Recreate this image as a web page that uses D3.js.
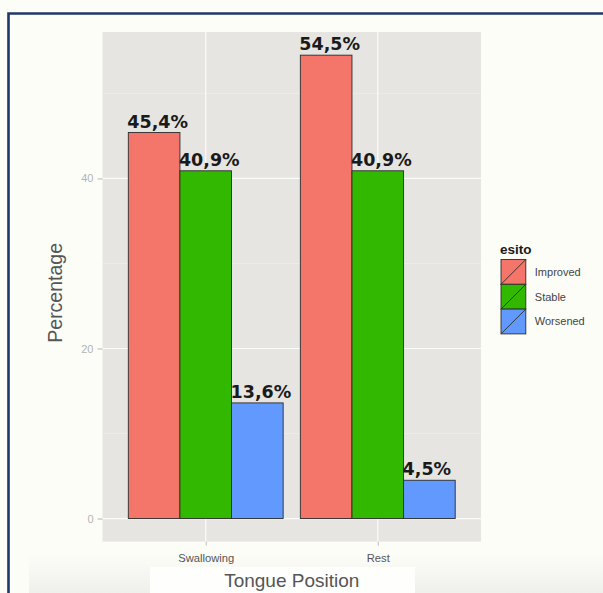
<!DOCTYPE html>
<html>
<head>
<meta charset="utf-8">
<script src="https://cdn.jsdelivr.net/npm/d3@7/dist/d3.min.js"></script>
<style>
  html, body { margin: 0; padding: 0; background: #fdfdf8; }
  svg { display: block; }
</style>
</head>
<body>
<svg id="chart" width="603" height="593"></svg>
<script>
// Tongue position outcome percentages by group
const positions = ["Swallowing", "Rest"];
const outcomes = ["Improved", "Stable", "Worsened"];
const improved = [45.4, 54.5];
const stable = [40.9, 40.9];
const worsened = [13.6, 4.5];
const yTicks = [0, 20, 40];
const yMinor = [10, 30, 50];
const colors = ["#f4766a", "#33b800", "#6199ff"];

const seriesValues = [improved, stable, worsened];
const rows = [];
positions.forEach((p, i) => {
  outcomes.forEach((o, j) => rows.push({ position: p, outcome: o, value: seriesValues[j][i] }));
});

const svg = d3.select("#chart");
const W = 603, H = 593;

// page background and frame
svg.append("rect").attr("width", W).attr("height", H).attr("fill", "#fdfdf8");
const defs = svg.append("defs");
const grad = defs.append("linearGradient").attr("id", "foot").attr("x1", 0).attr("y1", 0).attr("x2", 0).attr("y2", 1);
grad.append("stop").attr("offset", "0%").attr("stop-color", "#fdfdf8");
grad.append("stop").attr("offset", "100%").attr("stop-color", "#efefec");
svg.append("rect").attr("x", 29).attr("y", 553).attr("width", W - 29).attr("height", H - 553).attr("fill", "url(#foot)");
svg.append("rect").attr("x", 150).attr("y", 567).attr("width", 265).attr("height", H - 567).attr("fill", "#fefefd");

svg.append("path")
  .attr("d", `M8.5,${H} V13.5 H${W}`)
  .attr("fill", "none").attr("stroke", "#1f3869").attr("stroke-width", 2.6);

// panel geometry
const panel = { left: 102.5, right: 481, top: 32, bottom: 541.7 };
const maxVal = d3.max(rows, d => d.value);
const pad = maxVal * 0.05;

const y = d3.scaleLinear().domain([-pad, maxVal + pad]).range([panel.bottom, panel.top]);
const x = d3.scalePoint().domain(positions).range([panel.left, panel.right]).padding(0.6);
const groupW = x.step() * 0.9;
const xi = d3.scaleBand().domain(outcomes).range([-groupW / 2, groupW / 2]).paddingInner(0).paddingOuter(0);

svg.append("rect")
  .attr("x", panel.left).attr("y", panel.top)
  .attr("width", panel.right - panel.left).attr("height", panel.bottom - panel.top)
  .attr("fill", "#e7e5e2");

const g = svg.append("g");
// minor grid
g.selectAll("line.minor").data(yMinor).join("line")
  .attr("x1", panel.left).attr("x2", panel.right)
  .attr("y1", d => y(d)).attr("y2", d => y(d))
  .attr("stroke", "#f1f0ee").attr("stroke-width", 0.6);
// major grid
g.selectAll("line.major").data(yTicks).join("line")
  .attr("x1", panel.left).attr("x2", panel.right)
  .attr("y1", d => y(d)).attr("y2", d => y(d))
  .attr("stroke", "#fbfbfa").attr("stroke-width", 1.2);
g.selectAll("line.vgrid").data(positions).join("line")
  .attr("x1", d => x(d)).attr("x2", d => x(d))
  .attr("y1", panel.top).attr("y2", panel.bottom)
  .attr("stroke", "#fbfbfa").attr("stroke-width", 1.2);

// bars
const bars = svg.append("g");
bars.selectAll("rect").data(rows).join("rect")
  .attr("x", d => x(d.position) + xi(d.outcome))
  .attr("y", d => y(d.value))
  .attr("width", xi.bandwidth())
  .attr("height", d => y(0) - y(d.value))
  .attr("fill", d => colors[outcomes.indexOf(d.outcome)])
  .attr("stroke", "#2b2b2b").attr("stroke-width", 0.9);

// value labels
const fmt = d3.formatLocale({ decimal: ",", thousands: ".", grouping: [3], currency: ["", "€"] }).format(".1f");
svg.append("g").selectAll("text").data(rows).join("text")
  .attr("x", d => x(d.position) + xi(d.outcome) - 1)
  .attr("y", d => y(d.value) - 5)
  .attr("font-family", "DejaVu Sans, Verdana, sans-serif")
  .attr("font-weight", "bold").attr("font-size", 17.5)
  .attr("fill", "#1a1a1a")
  .text(d => fmt(d.value) + "%");

// y axis
const yAxis = d3.axisLeft(y).tickValues(yTicks).tickSize(5).tickPadding(4);
const ya = svg.append("g").attr("transform", `translate(${panel.left},0)`).call(yAxis);
ya.select(".domain").remove();
ya.selectAll("line").attr("stroke", "#b5b5b5");
ya.selectAll("text").attr("font-family", "Liberation Sans, Arial, sans-serif")
  .attr("font-size", 11).attr("fill", "#b3b3b3");

// x axis
const xAxis = d3.axisBottom(x).tickSize(4).tickPadding(8);
const xa = svg.append("g").attr("transform", `translate(0,${panel.bottom})`).call(xAxis);
xa.select(".domain").remove();
xa.selectAll("line").attr("stroke", "#bdbdbd");
xa.selectAll("text").attr("font-family", "Liberation Sans, Arial, sans-serif")
  .attr("font-size", 11.2).attr("fill", "#555");

// axis titles
svg.append("text")
  .attr("x", (panel.left + panel.right) / 2).attr("y", 586.5)
  .attr("text-anchor", "middle")
  .attr("font-family", "Liberation Sans, Arial, sans-serif")
  .attr("font-size", 19).attr("fill", "#555")
  .text("Tongue Position");
svg.append("text")
  .attr("transform", `translate(61.5,${(panel.top + panel.bottom) / 2 + 6}) rotate(-90)`)
  .attr("text-anchor", "middle")
  .attr("font-family", "Liberation Sans, Arial, sans-serif")
  .attr("font-size", 19.5).attr("fill", "#555")
  .text("Percentage");

// legend
const lg = svg.append("g").attr("transform", "translate(501,259.5)");
lg.append("text").attr("x", -1).attr("y", -6)
  .attr("font-family", "Liberation Sans, Arial, sans-serif")
  .attr("font-weight", "bold").attr("font-size", 13.5).attr("fill", "#1a1a1a")
  .text("esito");
const key = 24.8;
const items = lg.selectAll("g.item").data(outcomes).join("g")
  .attr("transform", (d, i) => `translate(0,${i * key})`);
items.append("rect").attr("width", key).attr("height", key)
  .attr("fill", (d, i) => colors[i]).attr("stroke", "#2b2b2b").attr("stroke-width", 0.9);
items.append("line").attr("x1", 0).attr("y1", key).attr("x2", key).attr("y2", 0)
  .attr("stroke", "#2b2b2b").attr("stroke-width", 0.9);
items.append("text").attr("x", key + 9).attr("y", key / 2 + 4)
  .attr("font-family", "Liberation Sans, Arial, sans-serif")
  .attr("font-size", 11).attr("fill", "#444")
  .text(d => d);
</script>
</body>
</html>
